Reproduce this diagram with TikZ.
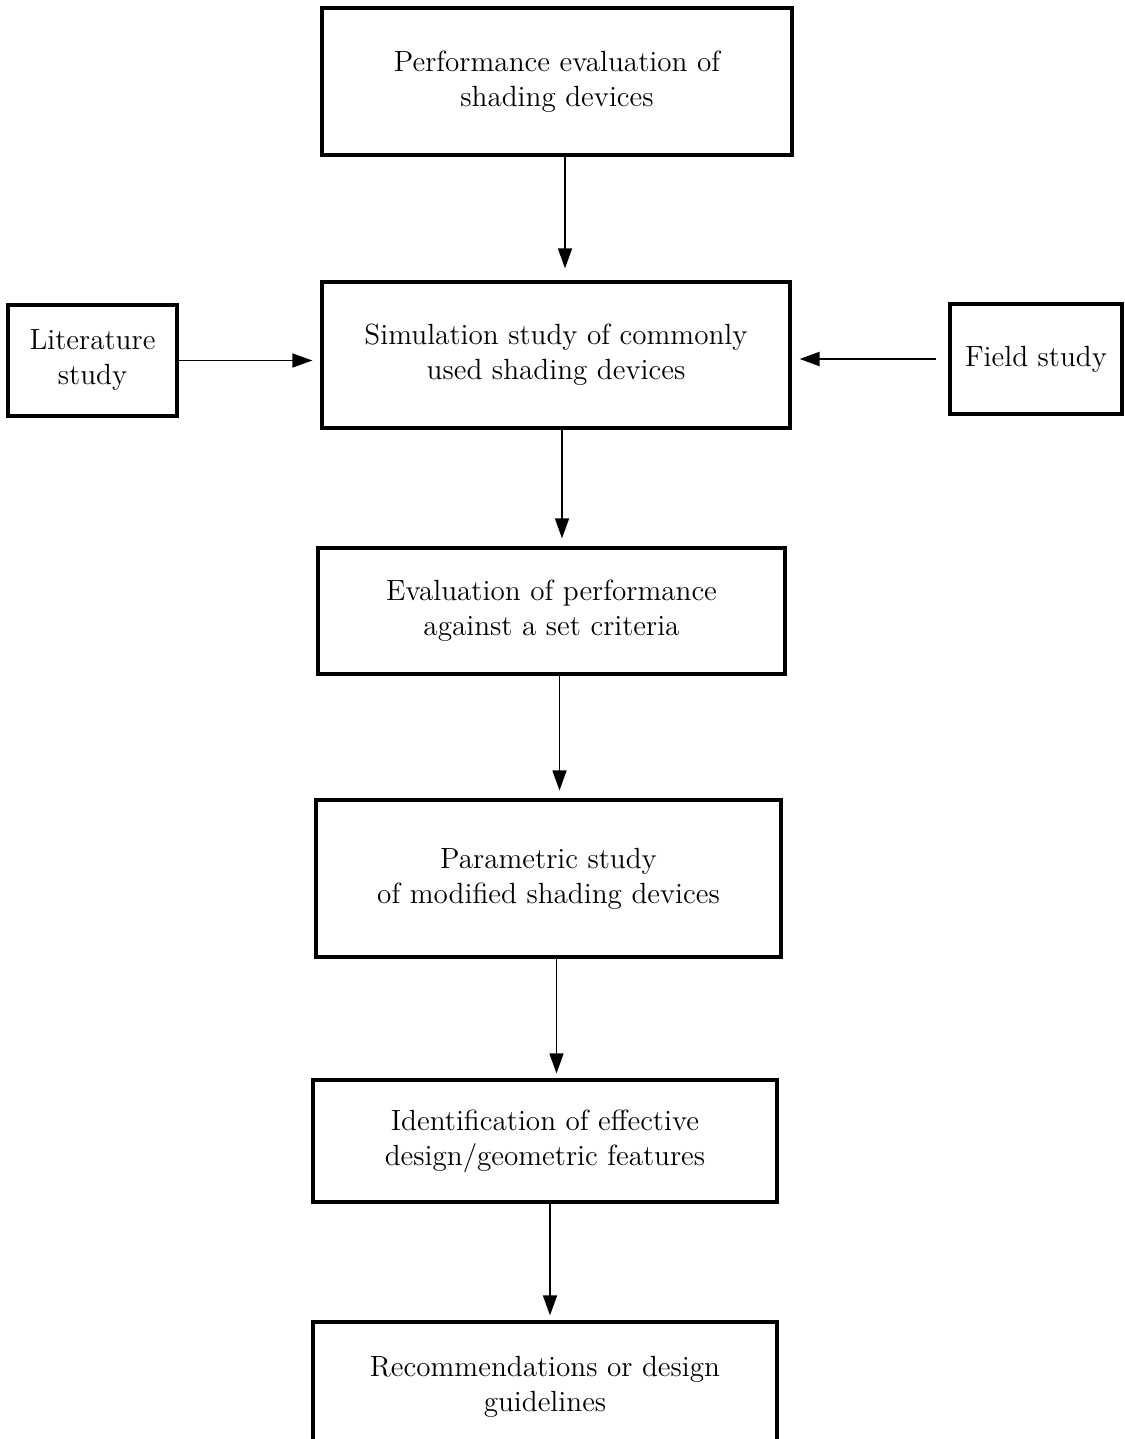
\documentclass[tikz,border=0pt]{standalone}
\usetikzlibrary{arrows.meta}
\tikzstyle{every picture}=[>={Triangle[length=10pt,width=7pt]}]
\tikzset{
  stage/.style={draw, line width=1.6pt, align=center, inner sep=0pt,
    font=\fontsize{14.6}{17.5}\selectfont},
  flow/.style={->, line width=0.8pt, shorten >=4pt},
}

\begin{document}
\begin{tikzpicture}[x=0.5pt,y=-0.5pt]
    \useasboundingbox (0,0) rectangle (1124,1439);
    \clip (0,0) rectangle (1124,1439);
    \node[stage, minimum width=235pt, minimum height=73.5pt] (performance) at (557,81.5) {Performance evaluation of\\shading devices};
    \node[stage, minimum width=234pt, minimum height=73pt] (simulation) at (556,355) {Simulation study of commonly\\used shading devices};
    \node[stage, minimum width=84.5pt, minimum height=55.5pt] (literature) at (92.5,360.5) {Literature\\study};
    \node[stage, minimum width=86pt, minimum height=55pt] (field) at (1036,359) {Field study};
    \node[stage, minimum width=233.5pt, minimum height=63pt] (criteria) at (551.5,611) {Evaluation of performance\\against a set criteria};
    \node[stage, minimum width=232.5pt, minimum height=78.5pt] (parametric) at (548.5,878.5) {Parametric study\\of modified shading devices};
    \node[stage, minimum width=232pt, minimum height=61pt] (features) at (545,1141) {Identification of effective\\design/geometric features};
    \node[stage, minimum width=232pt, minimum height=65pt] (guidelines) at (545,1387) {Recommendations or design\\guidelines};
    \draw[flow, shorten >=6pt] ([xshift=4pt]performance.south) -- ([xshift=4pt]performance.south |- simulation.north);
    \draw[flow] (literature.east) -- (literature.east -| simulation.west);
    \draw[flow, line width=1.1pt, shorten <=6pt] (field.west) -- (field.west -| simulation.east);
    \draw[flow] ([xshift=3pt]simulation.south) -- ([xshift=3pt]simulation.south |- criteria.north);
    \draw[flow] ([xshift=4pt]criteria.south) -- ([xshift=4pt]criteria.south |- parametric.north);
    \draw[flow, shorten >=2.5pt] ([xshift=4pt]parametric.south) -- ([xshift=4pt]parametric.south |- features.north);
    \draw[flow, shorten >=2.5pt] ([xshift=2.5pt]features.south) -- ([xshift=2.5pt]features.south |- guidelines.north);
\end{tikzpicture}
\end{document}
